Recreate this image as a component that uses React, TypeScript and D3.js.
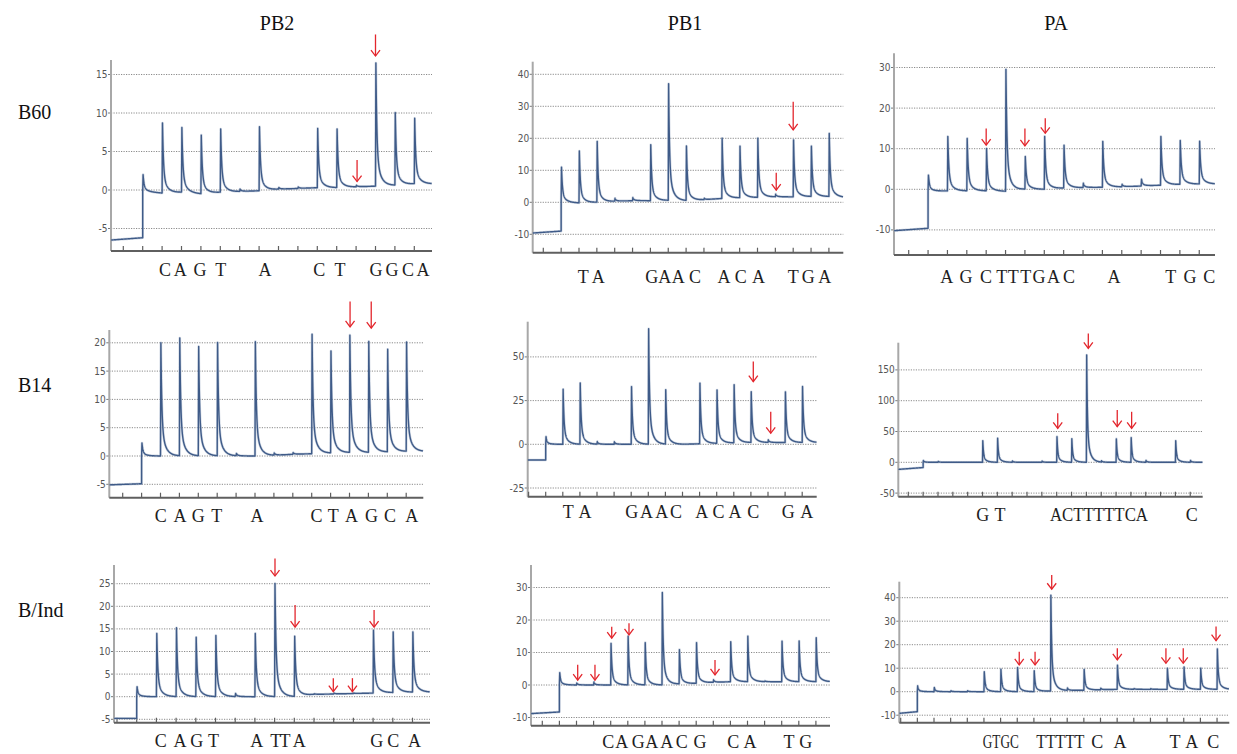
import React from "react";
import * as d3 from "d3";

// ---------- titles ----------
const colTitles = ["PB2", "PB1", "PA"];
const rowLabels = ["B60", "B14", "B/Ind"];

// ---------- PB2 / B60 ----------
const pb2B60Peaks = [null, 2.0, 8.7, 8.1, 7.1, 7.9, 0.1, 8.2, 0.3, 0.4, 8.0, 7.9, 0.6, 16.5, 10.0, 9.3];
const pb2B60Base = [-0.2, -0.2, -0.4, -0.3, -0.5, -0.3, -0.2, -0.1, 0.1, 0.2, 0.3, 0.3, 0.4, 0.5, 0.6, 0.8, 0.8];
const pb2B60Pre = [-6.5, -6.2];
const pb2B60YTicks = [-5, 0, 5, 10, 15];
const pb2B60Letters: [string, number, number?][] = [["C", 2.15], ["A", 2.93], ["G", 3.95], ["T", 5.02], ["A", 7.3], ["C", 10.1], ["T", 11.17], ["G", 13.03], ["G", 13.85], ["C", 14.67], ["A", 15.45]];
const pb2B60Arrows: [number, number, number][] = [[13.0, 20.2, 17.4], [12.05, 3.9, 1.1]];

// ---------- PB1 / B60 ----------
const pb1B60Peaks = [null, 11, 16, 19, 1.2, 1.5, 18, 37, 17.5, 1.2, 20, 17.5, 20, 2.5, 19.5, 17.5, 21.5];
const pb1B60Base = [0, 0, -0.2, 0, 0.3, 0.5, 0.5, 0.6, 0.5, 0.8, 1.2, 1.4, 1.5, 1.7, 1.7, 1.8, 1.8, 1.5];
const pb1B60Pre = [-9.6, -9.0];
const pb1B60YTicks = [-10, 0, 10, 20, 30, 40];
const pb1B60Letters: [string, number, number?][] = [["T", 2.24], ["A", 3.08], ["G", 6.07], ["A", 6.81], ["A", 7.56], ["C", 8.5], ["A", 10.13], ["C", 11.06], ["A", 12.05], ["T", 14.0], ["G", 14.84], ["A", 15.77]];
const pb1B60Arrows: [number, number, number][] = [[13.05, 9.2, 3.8], [14.0, 31.4, 22.6]];

// ---------- PA / B60 ----------
const paB60Peaks = [null, 3.5, 13, 12.5, 10, 29.5, 8, 13, 10.8, 1.5, 11.8, 1.2, 2.5, 13, 12, 11.8];
const paB60Base = [-0.5, -0.5, -0.4, -0.4, -0.4, -0.5, 0, 0, 0.3, 0.4, 0.5, 0.6, 0.8, 1.0, 1.2, 1.3, 1.3];
const paB60Pre = [-10.2, -9.6];
const paB60YTicks = [-10, 0, 10, 20, 30];
const paB60Letters: [string, number, number?][] = [["A", 1.96], ["G", 2.96], ["C", 3.99], ["T", 4.8], ["T", 5.4], ["T", 6.04], ["G", 6.73], ["A", 7.47], ["C", 8.28], ["A", 10.6], ["T", 13.53], ["G", 14.52], ["C", 15.52]];
const paB60Arrows: [number, number, number][] = [[4.0, 15, 10.9], [6.0, 15, 10.7], [7.05, 17.5, 13.8]];

// ---------- PB2 / B14 ----------
const pb2B14Peaks = [null, 2.3, 20, 20.8, 19.3, 20, 0.4, 20.2, 0.5, 0.6, 21.5, 18.5, 21.3, 20.2, 18.8, 20.1];
const pb2B14Base = [0, 0, 0, 0, 0, 0, 0, 0, 0.1, 0.3, 0.4, 0.5, 0.6, 0.6, 0.7, 0.8, 0.8];
const pb2B14Pre = [-5.1, -4.9];
const pb2B14YTicks = [-5, 0, 5, 10, 15, 20];
const pb2B14Letters: [string, number, number?][] = [["C", 2.01], ["A", 3.03], ["G", 4.0], ["T", 4.97], ["A", 7.1], ["C", 10.26], ["T", 11.14], ["A", 12.1], ["G", 13.17], ["C", 14.14], ["A", 15.29]];
const pb2B14Arrows: [number, number, number][] = [[12.03, 27.3, 22.8], [13.15, 27.3, 22.6]];

// ---------- PB1 / B14 ----------
const pb1B14Peaks = [null, 4.4, 31.5, 35, 1.5, 1.5, 33, 66, 31, 0, 35, 31, 34, 30, 2.5, 30, 33];
const pb1B14Base = [0, 0, 0, 0, 0, 0, 0, 0, 0, 0, 0.3, 0.5, 0.8, 1, 1, 1, 1, 1];
const pb1B14Pre = [-9, -9];
const pb1B14YTicks = [-25, 0, 25, 50];
const pb1B14Letters: [string, number, number?][] = [["T", 2.32], ["A", 3.3], ["G", 6.03], ["A", 6.9], ["A", 7.78], ["C", 8.62], ["A", 10.12], ["C", 11.1], ["A", 12.07], ["C", 13.14], ["G", 15.19], ["A", 16.26]];
const pb1B14Arrows: [number, number, number][] = [[13.14, 47.3, 35.8], [14.16, 18.6, 6.3]];

// ---------- PA / B14 ----------
const paB14Peaks = [null, 3, 1.5, null, null, 35, 39, 2, null, 2, 41.6, 38, 174, 2, 38, 40, 3, null, 35, 3];
const paB14Base = [0, 0, 0, 0, 0, 0, 0, 0, 0, 0, 0, 0, 0, 0, 0, 0, 0, 0, 0, 0, 0];
const paB14Pre = [-11.5, -8.5];
const paB14YTicks = [-50, 0, 50, 100, 150];
const paB14Letters: [string, number, number?][] = [["G", 5.01], ["T", 6.18], ["ACTTTTTCA", 12.85, 98], ["C", 19.1]];
const paB14Arrows: [number, number, number][] = [[10.07, 79.5, 55.2], [12.13, 209, 185], [14.08, 85, 57.8], [15.05, 82, 55.2]];

// ---------- PB2 / B/Ind ----------
const pb2BIndPeaks = [null, 2.2, 14, 15.2, 13.1, 13.5, 0.7, 14, 25, 13.3, 0.6, 0.8, 0.8, 14.7, 14.3, 14.3];
const pb2BIndBase = [0, 0, 0, 0, 0, 0, 0, 0, 0, 0, 0.5, 0.6, 0.7, 0.8, 0.9, 1.0, 1.0];
const pb2BIndPre = [-4.8, -4.8];
const pb2BIndYTicks = [-5, 0, 5, 10, 15, 20, 25];
const pb2BIndLetters: [string, number, number?][] = [["C", 2.22], ["A", 3.2], ["G", 4.05], ["T", 4.9], ["A", 7.1], ["T", 8.06], ["T", 8.53], ["A", 9.25], ["G", 13.18], ["C", 14.02], ["A", 15.1]];
const pb2BIndArrows: [number, number, number][] = [[8.02, 30.6, 26.7], [9.04, 20.3, 15.4], [10.98, 4.1, 1.1], [11.95, 4.1, 1.1], [13.05, 19.2, 15.4]];

// ---------- PB1 / B/Ind ----------
const pb1BIndPeaks = [null, 3.8, 0.6, 0.9, 12.8, 15, 13, 28.4, 10.8, 13, 1.6, 13.3, 15, 1.2, 13.5, 13.5, 14.5];
const pb1BIndBase = [0, 0, 0, 0, 0, 0, 0, 0, 0.3, 0.5, 0.8, 1, 1, 1, 1, 1, 1, 1];
const pb1BIndPre = [-8.8, -8.3];
const pb1BIndYTicks = [-10, 0, 10, 20, 30];
const pb1BIndLetters: [string, number, number?][] = [["C", 3.86], ["A", 4.64], ["G", 5.61], ["A", 6.4], ["A", 7.28], ["C", 8.15], ["G", 9.22], ["C", 11.16], ["A", 12.14], ["T", 14.43], ["G", 15.4]];
const pb1BIndArrows: [number, number, number][] = [[2.07, 6.2, 1.5], [3.08, 6.2, 1.5], [4.06, 17.9, 14.4], [5.07, 19, 15.4], [10.1, 7.7, 3.1]];

// ---------- PA / B/Ind ----------
const paBIndPeaks = [null, 2.5, 1.8, 0.4, 0.4, 8.5, 9.5, 10.3, 8.9, 41, 1.5, 9.5, 1.5, 11.3, 1.3, 1.3, 10, 10.5, 10, 18.2];
const paBIndBase = [0, 0, 0, 0, 0, 0, 0, 0, 0, 0.3, 0.5, 0.6, 0.8, 1, 1, 1, 1, 1, 1, 1, 1];
const paBIndPre = [-9.2, -8.5];
const paBIndYTicks = [-10, 0, 10, 20, 30, 40];
const paBIndLetters: [string, number, number?][] = [["GTGC", 6.01, 36], ["TTTTT", 9.59, 48], ["C", 11.8], ["A", 13.17], ["T", 16.47], ["A", 17.48], ["C", 18.77]];
const paBIndArrows: [number, number, number][] = [[7.12, 17, 11.4], [8.07, 17, 11.4], [9.07, 49.7, 43.6], [13.01, 18.5, 13.5], [15.93, 18.5, 12.1], [16.97, 18.5, 12.1], [18.94, 27.7, 21.7]];

// ---------- layout (pixels) ----------
type Layout = { left: number; right: number; top: number; bottom: number; idx0: number; step: number; zero: number; ppu: number; letterY: number };
const layouts: Layout[] = [
  { left: 111, right: 432, top: 60, bottom: 251, idx0: 123.3, step: 19.4, zero: 190, ppu: 7.7, letterY: 276 },
  { left: 532.7, right: 843.3, top: 61.7, bottom: 252.7, idx0: 543.3, step: 17.85, zero: 202.3, ppu: 3.2, letterY: 283 },
  { left: 894, right: 1215, top: 53.3, bottom: 255, idx0: 908.7, step: 19.37, zero: 189.3, ppu: 4.06, letterY: 283 },
  { left: 109.3, right: 423.3, top: 330, bottom: 497.7, idx0: 122.7, step: 18.9, zero: 456, ppu: 5.66, letterY: 521.7 },
  { left: 527.7, right: 816.7, top: 321.7, bottom: 496.7, idx0: 528.6, step: 17.1, zero: 444.3, ppu: 1.748, letterY: 518.3 },
  { left: 898.3, right: 1202.7, top: 342.7, bottom: 496.7, idx0: 908.3, step: 14.84, zero: 462.3, ppu: 0.616, letterY: 520.7 },
  { left: 114, right: 430, top: 565, bottom: 722.7, idx0: 117, step: 19.7, zero: 696.7, ppu: 4.52, letterY: 747.3 },
  { left: 531, right: 830, top: 565, bottom: 725.7, idx0: 542.3, step: 17.1, zero: 685, ppu: 3.25, letterY: 748.3 },
  { left: 899.3, right: 1229.3, top: 581.7, bottom: 722.7, idx0: 900.7, step: 16.65, zero: 691.7, ppu: 2.35, letterY: 748.3 },
];

const panelData = [
  { peaks: pb2B60Peaks, base: pb2B60Base, pre: pb2B60Pre, yTicks: pb2B60YTicks, letters: pb2B60Letters, arrows: pb2B60Arrows },
  { peaks: pb1B60Peaks, base: pb1B60Base, pre: pb1B60Pre, yTicks: pb1B60YTicks, letters: pb1B60Letters, arrows: pb1B60Arrows },
  { peaks: paB60Peaks, base: paB60Base, pre: paB60Pre, yTicks: paB60YTicks, letters: paB60Letters, arrows: paB60Arrows },
  { peaks: pb2B14Peaks, base: pb2B14Base, pre: pb2B14Pre, yTicks: pb2B14YTicks, letters: pb2B14Letters, arrows: pb2B14Arrows },
  { peaks: pb1B14Peaks, base: pb1B14Base, pre: pb1B14Pre, yTicks: pb1B14YTicks, letters: pb1B14Letters, arrows: pb1B14Arrows },
  { peaks: paB14Peaks, base: paB14Base, pre: paB14Pre, yTicks: paB14YTicks, letters: paB14Letters, arrows: paB14Arrows },
  { peaks: pb2BIndPeaks, base: pb2BIndBase, pre: pb2BIndPre, yTicks: pb2BIndYTicks, letters: pb2BIndLetters, arrows: pb2BIndArrows },
  { peaks: pb1BIndPeaks, base: pb1BIndBase, pre: pb1BIndPre, yTicks: pb1BIndYTicks, letters: pb1BIndLetters, arrows: pb1BIndArrows },
  { peaks: paBIndPeaks, base: paBIndBase, pre: paBIndPre, yTicks: paBIndYTicks, letters: paBIndLetters, arrows: paBIndArrows },
];

const TRACE = "#3f5b88";
const RED = "#e3262d";
const SERIF = "'Liberation Serif','Times New Roman',serif";
const TICKFONT = "'Liberation Sans Narrow','DejaVu Sans Condensed','Liberation Sans',sans-serif";
const RISE = 0.02;

// peak shape: sharp rise, fast decay with a slower tail
function pulse(t: number) {
  if (t < 0) return 0;
  if (t < RISE) return t / RISE;
  const u = t - RISE;
  return 0.74 * Math.exp(-u / 0.05) + 0.26 * Math.exp(-u / 0.22);
}

function Pyrogram({ L, D }: { L: Layout; D: (typeof panelData)[number] }) {
  const xmin = (L.left - L.idx0) / L.step;
  const xmax = (L.right - L.idx0) / L.step;
  const x = d3.scaleLinear().domain([xmin, xmax]).range([L.left, L.right]);
  const y = d3
    .scaleLinear()
    .domain([(L.zero - L.bottom) / L.ppu, (L.zero - L.top) / L.ppu])
    .range([L.bottom, L.top]);

  const base = d3
    .scaleLinear<number, number>()
    .domain(D.base.map((_, i) => i))
    .range(D.base)
    .clamp(true);
  const pre = d3.scaleLinear().domain([xmin, 1]).range(D.pre);
  const heights: [number, number][] = [];
  D.peaks.forEach((v, i) => {
    if (v == null || i < 1) return;
    heights.push([i, Math.max(0, v - base(i))]);
  });
  const value = (t: number) => {
    if (t < 1) return pre(t);
    let v = base(t);
    for (const [i, h] of heights) v += h * pulse(t - i);
    return v;
  };
  const xs = d3
    .range(xmin + 0.01, xmax - 0.01, 0.008)
    .concat(heights.flatMap(([i]) => [i - 0.0001, i, i + RISE]))
    .filter((t) => t > xmin && t < xmax)
    .sort((a, b) => a - b);
  const pts: [number, number][] = xs.map((t) => [t, value(t)]);
  const line = d3
    .line<[number, number]>()
    .x((d) => x(d[0]))
    .y((d) => y(d[1]));

  const xTicks = d3.range(Math.ceil(xmin), Math.floor(xmax) + 1);

  return (
    <g>
      {D.yTicks.map((v) => (
        <line key={"g" + v} x1={L.left} x2={L.right} y1={y(v)} y2={y(v)} stroke="#8a8a8a" strokeWidth={1} strokeDasharray="1.2,1.3" />
      ))}
      {D.yTicks.map((v) => (
        <g key={"t" + v}>
          <line x1={L.left - 3} x2={L.left} y1={y(v)} y2={y(v)} stroke="#777" strokeWidth={1} />
          <text x={L.left - 3.5} y={y(v)} dy="0.35em" textAnchor="end" fontSize={10} fill="#555" fontFamily={TICKFONT}>
            {v}
          </text>
        </g>
      ))}
      <line x1={L.left} x2={L.left} y1={L.top} y2={L.bottom} stroke="#a8a8a8" strokeWidth={2} />
      <line x1={L.left} x2={L.right} y1={L.bottom} y2={L.bottom} stroke="#5f5f5f" strokeWidth={2} />
      {xTicks.map((i) => (
        <line key={"x" + i} x1={x(i)} x2={x(i)} y1={L.bottom} y2={L.bottom - 5} stroke="#5f5f5f" strokeWidth={1.2} />
      ))}
      <path d={line(pts) || ""} fill="none" stroke="#9fb0c8" strokeWidth={2.6} strokeLinejoin="round" opacity={0.5} />
      <path d={line(pts) || ""} fill="none" stroke={TRACE} strokeWidth={1.4} strokeLinejoin="round" />
      {D.arrows.map(([i, top, tip], k) => {
        const ax = x(i);
        const y1 = y(top);
        const y2 = y(tip);
        return (
          <g key={"a" + k} stroke={RED} strokeWidth={1.3} fill="none">
            <line x1={ax} x2={ax} y1={y1} y2={y2} />
            <path d={`M${ax - 4.5},${y2 - 6} L${ax},${y2} L${ax + 4.5},${y2 - 6}`} />
          </g>
        );
      })}
      {D.letters.map(([s, i, w], k) => (
        <text
          key={"l" + k}
          x={x(i)}
          y={L.letterY}
          textAnchor="middle"
          fontSize={18}
          fill="#1e1e1e"
          fontFamily={SERIF}
          {...(w ? { textLength: w, lengthAdjust: "spacingAndGlyphs" } : {})}
        >
          {s}
        </text>
      ))}
    </g>
  );
}

const titleX = [277, 685, 1056];
const rowY = [119, 392, 617];

export default function App() {
  return (
    <svg width={1237} height={754} style={{ position: "absolute", left: 0, top: 0, background: "#fff" }}>
      <rect x={0} y={0} width={1237} height={754} fill="#fff" />
      {colTitles.map((t, i) => (
        <text key={t} x={titleX[i]} y={30} textAnchor="middle" fontSize={20} fontFamily={SERIF} fill="#111">
          {t}
        </text>
      ))}
      {rowLabels.map((t, i) => (
        <text key={t} x={18} y={rowY[i]} fontSize={20} fontFamily={SERIF} fill="#111">
          {t}
        </text>
      ))}
      {layouts.map((L, k) => (
        <Pyrogram key={k} L={L} D={panelData[k]} />
      ))}
    </svg>
  );
}
